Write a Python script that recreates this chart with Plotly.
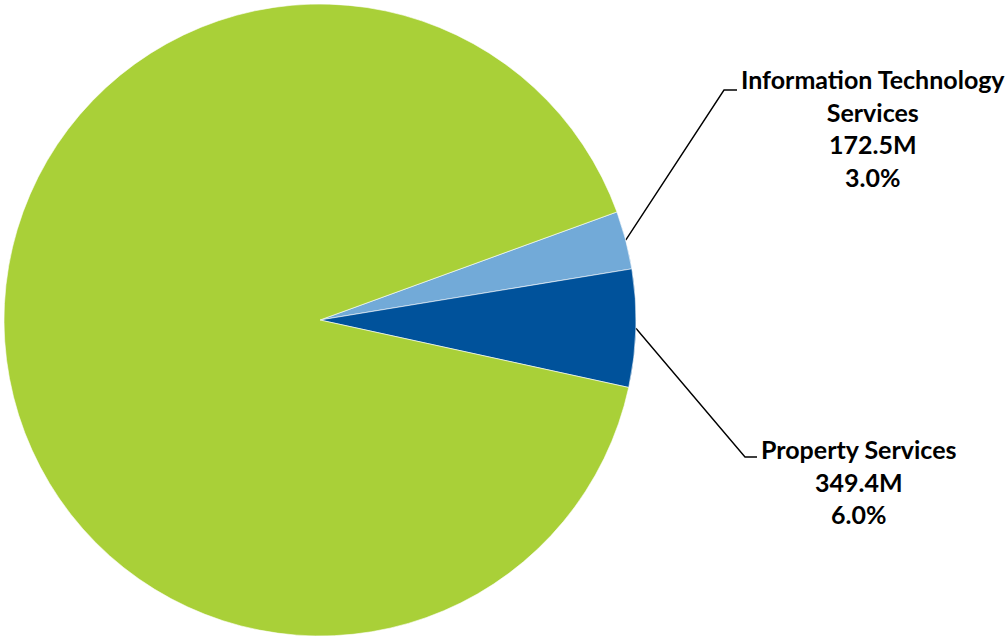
import math
import plotly.graph_objects as go

# data
labels = ["Information Technology Services", "Property Services", "Other Services"]
label_text = ["Information Technology<br>Services", "Property Services", None]
values = [172.5, 349.4, 5290.0]
colors = ["#72AAD8", "#00529B", "#A9D038"]

fnt = "Lato, Liberation Sans, Arial"
W, H = 1006, 637
pie_left, pie_right, pie_top, pie_bottom = 4, 636, 4, 636
rotation = 70

# label anchors (px): elbow of leader line and text centre
label_pos = {
    0: dict(elbow=(724, 90), end=(737, 90), text=(873, 128)),
    1: dict(elbow=(745, 457), end=(757, 457), text=(858, 481)),
}

fig = go.Figure()
fig.add_trace(go.Pie(
    labels=labels, values=values, sort=False, direction="clockwise", rotation=rotation,
    marker=dict(colors=colors, line=dict(color="white", width=0.6)),
    textinfo="none", hoverinfo="label+value+percent", showlegend=False,
    domain=dict(x=[pie_left / W, pie_right / W], y=[1 - pie_bottom / H, 1 - pie_top / H])))

# leader lines from slice mid-angles
cx, cy = (pie_left + pie_right) / 2, (pie_top + pie_bottom) / 2
r = (pie_right - pie_left) / 2
total = sum(values)
ang = 90 - rotation
for i, v in enumerate(values):
    span = v / total * 360
    mid = math.radians(ang - span / 2)
    ang -= span
    if i not in label_pos:
        continue
    p = label_pos[i]
    sx, sy = cx + r * math.cos(mid), cy - r * math.sin(mid)
    fig.add_trace(go.Scatter(
        x=[sx, p["elbow"][0], p["end"][0]], y=[sy, p["elbow"][1], p["end"][1]],
        mode="lines", line=dict(color="black", width=1.4), hoverinfo="skip", showlegend=False))
    fig.add_annotation(
        x=p["text"][0], y=p["text"][1], xref="x", yref="y",
        text=f"<b>{label_text[i]}<br>{v:.1f}M<br>{v / total * 100:.1f}%</b>",
        showarrow=False, align="center", xanchor="center", yanchor="middle",
        font=dict(family=fnt, size=25, color="black"))

fig.update_xaxes(range=[0, W], visible=False, fixedrange=True)
fig.update_yaxes(range=[H, 0], visible=False, fixedrange=True)
fig.update_layout(
    width=W, height=H,
    margin=dict(l=0, r=0, t=0, b=0),
    paper_bgcolor="white", plot_bgcolor="rgba(0,0,0,0)")

fig.write_html("out.html", config={"displayModeBar": False},
               post_script="document.body.style.margin='0';")
